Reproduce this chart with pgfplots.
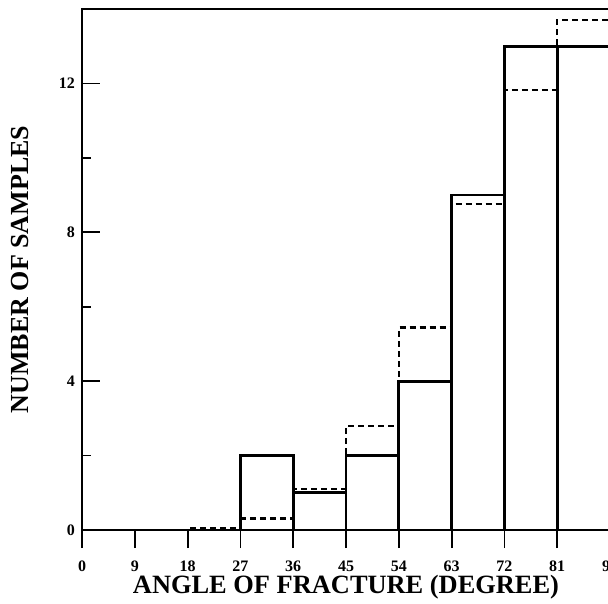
\documentclass[border=0pt]{standalone}
\usepackage{pgfplots}
\pgfplotsset{compat=1.18}
\usepackage{fontspec}
\setmainfont{Liberation Serif}
\begin{document}
\begin{tikzpicture}
\begin{axis}[
  scale only axis, width=264pt, height=260.5pt,
  xmin=0, xmax=90, ymin=0, ymax=14,
  axis line style={line width=0.8pt},
  tick pos=left,
  tick align=inside,
  major tick length=9pt, minor tick length=4.5pt,
  every tick/.style={black, line width=0.9pt},
  xtick=\empty,
  extra x ticks={0,9,18,27,36,45,54,63,72,81,90},
  extra x tick style={tick align=outside},
  ytick={0,4,8,12}, minor ytick={2,6,10},
  /pgf/number format/assume math mode=true,
  tick label style={font=\fontsize{8}{9}\selectfont\bfseries},
  xticklabel style={yshift=-3pt},
  xlabel={\resizebox{213pt}{!}{\fontsize{12}{14}\selectfont\bfseries ANGLE OF FRACTURE (DEGREE)}},
  ylabel={NUMBER OF SAMPLES},
  xlabel style={at={(axis description cs:0.5,0)}, anchor=base, yshift=-31.8pt},
  ylabel style={font=\fontsize{13}{15}\selectfont\bfseries, at={(axis description cs:0,0.5)}, anchor=center, yshift=31pt},
  clip=false,
]
\addplot[ybar interval, draw=black, fill=none, line width=1.4pt] coordinates {
  (0,0) (9,0) (18,0) (27,2) (36,1) (45,2) (54,4) (63,9) (72,13) (81,13) (90,13)};
\addplot[const plot, draw=black, line width=1.1pt, dash pattern=on 3pt off 2pt] coordinates {
  (0,0) (9,0) (18,0.05) (27,0.31) (36,1.1) (45,2.79) (54,5.44) (63,8.77) (72,11.83) (81,13.7) (90,13.7)};
\end{axis}
\pgfresetboundingbox
\path[use as bounding box] ([xshift=-41pt,yshift=-36.5pt]current axis.south west) rectangle ([xshift=-1pt,yshift=4.5pt]current axis.north east);
\end{tikzpicture}
\end{document}
